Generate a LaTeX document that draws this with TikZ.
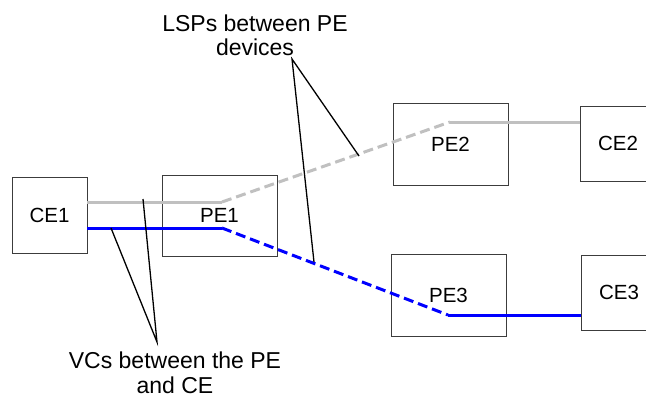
\documentclass[tikz,border=0pt]{standalone}
\usepackage{fontspec}
\setmainfont{Liberation Sans}
\definecolor{lspgray}{RGB}{192,192,192}
\definecolor{vcblue}{RGB}{0,0,255}
\definecolor{boxedge}{RGB}{60,60,60}
\begin{document}
\begin{tikzpicture}[x=1pt,y=-1pt,
  devbox/.style={draw=boxedge, line width=0.9pt, rectangle, inner sep=0pt,
    font=\fontsize{20.5}{24}\selectfont},
  grayline/.style={draw=lspgray, line width=3pt},
  blueline/.style={draw=vcblue, line width=3pt},
  dashedseg/.style={dash pattern=on 10pt off 5pt},
  callline/.style={draw=black, line width=1.3pt},
  calltext/.style={align=center, inner sep=0pt,
    font=\fontsize{23}{24.5}\selectfont}
]
\clip (0,0) rectangle (646,400);
\fill[white] (0,0) rectangle (646,400);

% devices
\node[devbox, minimum width=75pt, minimum height=76pt] (CE1) at (49.5,215) {CE1};
\node[devbox, minimum width=115pt, minimum height=81pt] (PE1) at (219.5,215.5) {PE1};
\node[devbox, minimum width=115pt, minimum height=82pt] (PE2) at (450.5,144) {PE2};
\node[devbox, minimum width=115pt, minimum height=82pt] (PE3) at (448.5,295) {PE3};
\node[devbox, minimum width=76pt, minimum height=75pt] (CE2) at (618,143.5) {CE2};
\node[devbox, minimum width=76pt, minimum height=75pt] (CE3) at (619,292.5) {CE3};

% bend points of the paths
\coordinate (g1) at (222,202);
\coordinate (g2) at (450,122);
\coordinate (b1) at (222,228);
\coordinate (b2) at (448,315);

% gray path (CE1 - PE1 - PE2 - CE2)
\draw[grayline] (CE1.east |- g1) -- (g1);
\draw[grayline, dashedseg] (g1) -- (g2);
\draw[grayline] (g2) -- (CE2.west |- g2);

% blue path (CE1 - PE1 - PE3 - CE3)
\draw[blueline] (CE1.east |- b1) -- (b1);
\draw[blueline, dashedseg] (b1) -- (b2);
\draw[blueline] (b2) -- (CE3.west |- b2);

% callouts
\node[calltext, anchor=south] (lsp) at (255,56) {LSPs between PE\\devices};
\node[calltext, anchor=south] (vc) at (175,393.5) {VCs between the PE\\and CE};

\coordinate (lspA) at (292,59);
\coordinate (lspG) at (359,156);
\coordinate (lspB) at (314,262);
\coordinate (vcA) at (157,342);
\coordinate (vcG) at (143,199);
\coordinate (vcB) at (111,228);

\draw[callline] (lspG) -- (lspA) -- (lspB);
\draw[callline] (vcG) -- (vcA) -- (vcB);
\end{tikzpicture}
\end{document}
